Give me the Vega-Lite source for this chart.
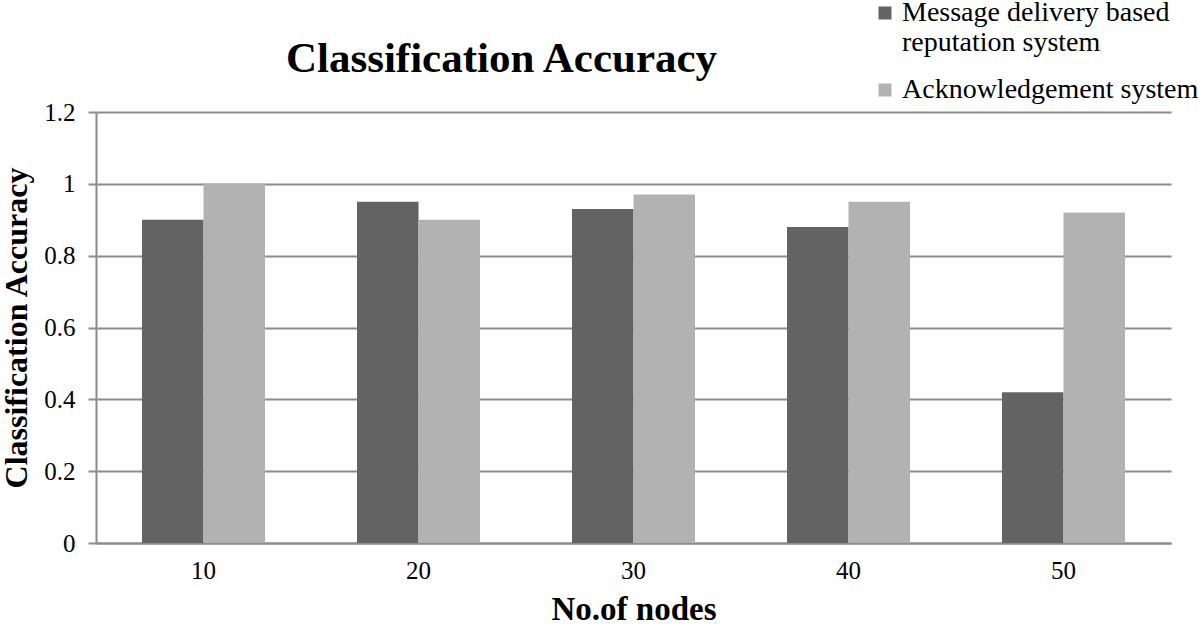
{
  "$schema": "https://vega.github.io/schema/vega-lite/v6.json",
  "autosize": {"type": "none"},
  "width": 1075,
  "height": 431,
  "padding": {"left": 96, "top": 112, "right": 29, "bottom": 81},
  "background": "white",
  "config": {"font": "Liberation Serif", "view": {"stroke": null}},
  "title": {
    "text": "Classification Accuracy",
    "font": "Liberation Serif",
    "fontSize": 43,
    "fontWeight": "bold",
    "color": "black",
    "anchor": "middle",
    "baseline": "alphabetic",
    "dx": -132,
    "dy": 116,
    "offset": 0
  },
  "data": {
    "values": [
      {"nodes": "10", "system": "Message delivery based reputation system", "accuracy": 0.9},
      {"nodes": "10", "system": "Acknowledgement system", "accuracy": 1.0},
      {"nodes": "20", "system": "Message delivery based reputation system", "accuracy": 0.95},
      {"nodes": "20", "system": "Acknowledgement system", "accuracy": 0.9},
      {"nodes": "30", "system": "Message delivery based reputation system", "accuracy": 0.93},
      {"nodes": "30", "system": "Acknowledgement system", "accuracy": 0.97},
      {"nodes": "40", "system": "Message delivery based reputation system", "accuracy": 0.88},
      {"nodes": "40", "system": "Acknowledgement system", "accuracy": 0.95},
      {"nodes": "50", "system": "Message delivery based reputation system", "accuracy": 0.42},
      {"nodes": "50", "system": "Acknowledgement system", "accuracy": 0.92}
    ]
  },
  "mark": {"type": "bar"},
  "encoding": {
    "x": {
      "field": "nodes",
      "type": "nominal",
      "scale": {"paddingInner": 0.428, "paddingOuter": 0.214},
      "axis": {
        "title": "No.of nodes",
        "titleFont": "Liberation Serif",
        "titleFontSize": 33,
        "titleFontWeight": "bold",
        "titleColor": "black",
        "titlePadding": 10,
        "labelAngle": 0,
        "labelFont": "Liberation Serif",
        "labelFontSize": 25,
        "labelColor": "black",
        "labelPadding": 15,
        "ticks": false,
        "domainColor": "#8c8c8c",
        "domainWidth": 2
      }
    },
    "xOffset": {
      "field": "system",
      "type": "nominal",
      "sort": ["Message delivery based reputation system", "Acknowledgement system"],
      "scale": {"paddingInner": 0, "paddingOuter": 0}
    },
    "y": {
      "field": "accuracy",
      "type": "quantitative",
      "scale": {"domain": [0, 1.2], "nice": false},
      "axis": {
        "title": "Classification Accuracy",
        "titleFont": "Liberation Serif",
        "titleFontSize": 32,
        "titleFontWeight": "bold",
        "titleColor": "black",
        "titlePadding": 10,
        "values": [0, 0.2, 0.4, 0.6, 0.8, 1, 1.2],
        "labelExpr": "datum.value == 1 ? '1' : datum.value == 0 ? '0' : format(datum.value, '.1f')",
        "labelFont": "Liberation Serif",
        "labelFontSize": 25,
        "labelColor": "black",
        "labelPadding": 13,
        "tickSize": 8,
        "tickColor": "#8c8c8c",
        "tickWidth": 2,
        "domainColor": "#8c8c8c",
        "domainWidth": 2,
        "grid": true,
        "gridColor": "#8c8c8c",
        "gridWidth": 2
      }
    },
    "color": {
      "field": "system",
      "type": "nominal",
      "sort": ["Message delivery based reputation system", "Acknowledgement system"],
      "scale": {"range": ["#636363", "#b2b2b2"]},
      "legend": {
        "title": null,
        "orient": "none",
        "legendX": 775,
        "legendY": -113,
        "symbolType": "square",
        "symbolSize": 169,
        "symbolStrokeWidth": 0,
        "labelFont": "Liberation Serif",
        "labelFontSize": 28,
        "labelColor": "black",
        "labelOffset": 3,
        "labelLimit": 400,
        "rowPadding": 19,
        "labelExpr": "datum.label == 'Message delivery based reputation system' ? ['Message delivery based', 'reputation system'] : datum.label"
      }
    }
  }
}
